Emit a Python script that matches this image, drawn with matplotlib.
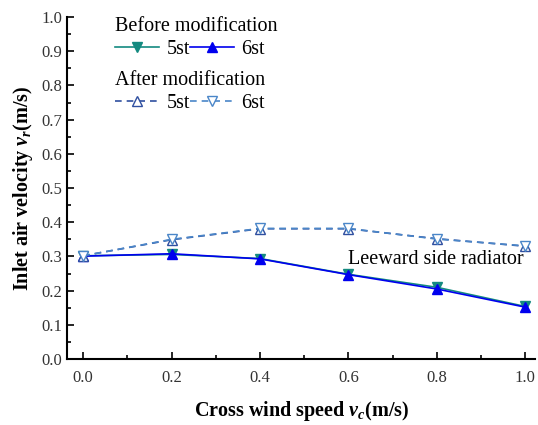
import matplotlib
matplotlib.use("Agg")
import matplotlib.pyplot as plt
from matplotlib.ticker import MultipleLocator, FormatStrFormatter

plt.rcParams['font.family'] = 'Liberation Serif'
plt.rcParams['mathtext.fontset'] = 'custom'
plt.rcParams['mathtext.it'] = 'Liberation Serif:italic:bold'
plt.rcParams['mathtext.rm'] = 'Liberation Serif:bold'

# cross wind speed (m/s)
wind = [0.0, 0.2, 0.4, 0.6, 0.8, 1.0]

# inlet air velocity, before modification
before_5st = [0.302, 0.306, 0.294, 0.248, 0.210, 0.154]
before_6st = [0.301, 0.308, 0.293, 0.247, 0.205, 0.152]

# inlet air velocity, after modification
after_5st = [0.302, 0.349, 0.381, 0.381, 0.352, 0.330]
after_6st = [0.302, 0.350, 0.382, 0.382, 0.351, 0.331]

fig = plt.figure(figsize=(5.38, 4.25), dpi=100)
ax = fig.add_axes([0.125, 0.155, 0.87, 0.805])

l1, = ax.plot(wind, before_5st, color='#138a80', marker='v', ms=7.5, lw=1.2, label='5st')
l2, = ax.plot(wind, before_6st, color='#0000ee', marker='^', ms=7.5, lw=1.2, label='6st')
l3, = ax.plot(wind, after_5st, color='#2f4fa0', marker='^', ms=7.5, lw=1.2, ls='--',
              mfc='white', dashes=(4, 3), label='5st')
l4, = ax.plot(wind, after_6st, color='#4a86c8', marker='v', ms=7.5, lw=1.2, ls='--',
              mfc='white', dashes=(4, 3), label='6st')

ax.text(0.60, 0.29, 'Leeward side radiator', fontsize=14.5, va='center')

ax.set_xlim(-0.036, 1.023)
ax.set_ylim(0.0, 1.0)
ax.xaxis.set_major_locator(MultipleLocator(0.2))
ax.xaxis.set_minor_locator(MultipleLocator(0.1))
ax.yaxis.set_major_locator(MultipleLocator(0.1))
ax.yaxis.set_minor_locator(MultipleLocator(0.05))
ax.xaxis.set_major_formatter(FormatStrFormatter('%.1f'))
ax.yaxis.set_major_formatter(FormatStrFormatter('%.1f'))
ax.tick_params(which='both', direction='in', labelsize=12, width=1.2, color='black',
               labelcolor='#333333')
ax.tick_params(which='major', length=5)
ax.tick_params(which='minor', length=3)
ax.tick_params(axis='x', pad=8)
for s in ['top', 'right']:
    ax.spines[s].set_visible(False)
for s in ['left', 'bottom']:
    ax.spines[s].set_linewidth(1.5)

ax.set_xlabel(r'Cross wind speed $v_c$(m/s)', fontsize=14.5, fontweight='bold', labelpad=9)
ax.set_ylabel(r'Inlet air velocity $v_r$(m/s)', fontsize=14.5, fontweight='bold', labelpad=5)

leg1 = ax.legend(handles=[l1, l2], title='Before modification', ncol=2, frameon=False,
                 loc='upper left', bbox_to_anchor=(0.085, 1.025), fontsize=14.5,
                 title_fontsize=14.5, handlelength=2.2, handletextpad=0.35,
                 columnspacing=0.0, borderaxespad=0.0, labelspacing=0.2)
leg1._legend_box.align = 'left'
ax.add_artist(leg1)
leg2 = ax.legend(handles=[l3, l4], title='After modification', ncol=2, frameon=False,
                 loc='upper left', bbox_to_anchor=(0.085, 0.865), fontsize=14.5,
                 title_fontsize=14.5, handlelength=2.2, handletextpad=0.35,
                 columnspacing=0.0, borderaxespad=0.0, labelspacing=0.2)
leg2._legend_box.align = 'left'

fig.savefig('out.png', dpi=100)
